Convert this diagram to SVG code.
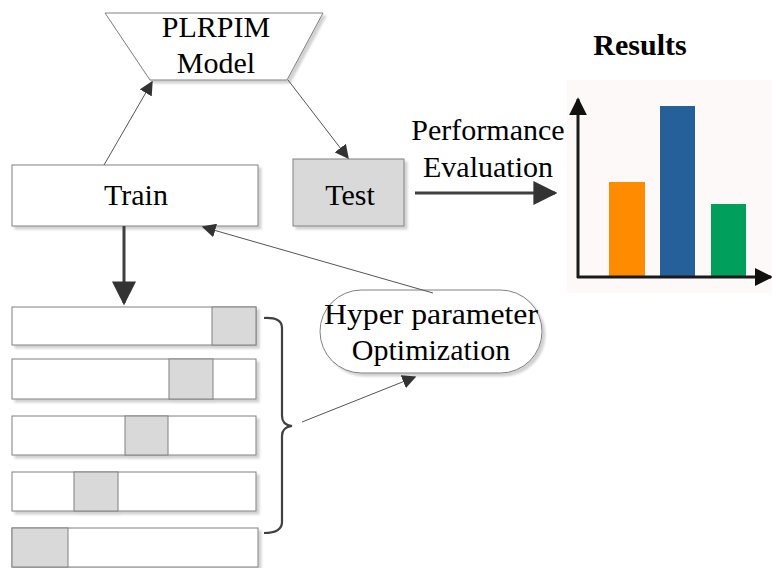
<svg xmlns="http://www.w3.org/2000/svg" width="772" height="568" viewBox="0 0 772 568">
  <defs>
    <style>
      .lbl { font-family: "Liberation Serif", "Times New Roman", serif; font-size: 30px; fill: #000; text-anchor: middle; }
      .title { font-family: "Liberation Serif", "Times New Roman", serif; font-size: 30px; font-weight: bold; fill: #000; text-anchor: middle; }
      .box { fill: #ffffff; stroke: #808080; stroke-width: 1; }
      .grey { fill: #d9d9d9; stroke: #808080; stroke-width: 1; }
      .thin { stroke: #555555; stroke-width: 1; fill: none; }
      .thick { stroke: #404040; stroke-width: 3; fill: none; }
      .axis { stroke: #1a1a1a; stroke-width: 3; fill: none; }
    </style>
    <filter id="shadow" x="-10%" y="-10%" width="130%" height="140%">
      <feDropShadow dx="3" dy="3" stdDeviation="0.8" flood-color="#000" flood-opacity="0.18"/>
    </filter>
    <marker id="tip" viewBox="0 0 10 10" refX="9" refY="5" markerWidth="14" markerHeight="14" markerUnits="userSpaceOnUse" orient="auto">
      <path d="M0,0 L10,5 L0,10 Z" fill="#333333"/>
    </marker>
    <marker id="tipBig" viewBox="0 0 10 10" refX="9" refY="5" markerWidth="8" markerHeight="8" markerUnits="strokeWidth" orient="auto">
      <path d="M0,0 L10,5 L0,10 Z" fill="#333333"/>
    </marker>
    <marker id="axisTip" viewBox="0 0 10 10" refX="9" refY="5" markerWidth="6" markerHeight="6" markerUnits="strokeWidth" orient="auto">
      <path d="M0,0 L10,5 L0,10 Z" fill="#111111"/>
    </marker>
  </defs>

  <rect width="772" height="568" fill="#ffffff"/>

  <!-- model block -->
  <g id="model">
    <polygon points="105,13 323,13 287,80 150,80" fill="#ffffff" stroke="#808080" stroke-width="1" filter="url(#shadow)"/>
    <text class="lbl" x="216" y="37">PLRPIM</text>
    <text class="lbl" x="216" y="73">Model</text>
  </g>

  <!-- training block -->
  <g id="train">
    <rect class="box" x="12" y="165" width="246" height="61" filter="url(#shadow)"/>
    <text class="lbl" x="136" y="205">Train</text>
  </g>

  <!-- test block -->
  <g id="test">
    <rect class="grey" x="293" y="159" width="111" height="67" filter="url(#shadow)"/>
    <text class="lbl" x="350" y="205">Test</text>
  </g>

  <!-- hyper parameter optimization -->
  <g id="hpo">
    <rect x="320" y="290" width="222" height="83" rx="41.5" ry="41.5" fill="#ffffff" stroke="#808080" stroke-width="1" filter="url(#shadow)"/>
    <text class="lbl" x="431" y="324" textLength="214" lengthAdjust="spacingAndGlyphs">Hyper parameter</text>
    <text class="lbl" x="431" y="360">Optimization</text>
  </g>

  <!-- cross-validation folds -->
  <g id="folds" filter="url(#shadow)">
    <g id="fold1">
      <rect class="box" x="12" y="307" width="244" height="38"/>
      <rect class="grey" x="212" y="307" width="44" height="38"/>
    </g>
    <g id="fold2">
      <rect class="box" x="12" y="359" width="244" height="40"/>
      <rect class="grey" x="169" y="359" width="44" height="40"/>
    </g>
    <g id="fold3">
      <rect class="box" x="12" y="416" width="244" height="39"/>
      <rect class="grey" x="125" y="416" width="43" height="39"/>
    </g>
    <g id="fold4">
      <rect class="box" x="12" y="472" width="244" height="39"/>
      <rect class="grey" x="74" y="472" width="44" height="39"/>
    </g>
    <g id="fold5">
      <rect class="box" x="12" y="528" width="246" height="39"/>
      <rect class="grey" x="12" y="528" width="56" height="39"/>
    </g>
  </g>

  <!-- brace grouping the folds -->
  <g id="brace">
    <path d="M264,318 Q282,317 282,328 L282,416 Q282,425 292,426 Q282,427 282,436 L282,522 Q282,533 264,533" fill="none" stroke="#404040" stroke-width="2.2"/>
  </g>

  <!-- results chart -->
  <g id="results">
    <text class="title" x="640" y="55">Results</text>
    <rect x="567" y="80" width="205" height="213" fill="#fdf9f8"/>
    <rect x="609" y="182" width="36" height="95" fill="#ff8c00"/>
    <rect x="660" y="106" width="35" height="171" fill="#26609b"/>
    <rect x="711" y="204" width="35" height="73" fill="#00a05c"/>
    <line class="axis" x1="578" y1="278" x2="578" y2="99" marker-end="url(#axisTip)"/>
    <line class="axis" x1="577" y1="277" x2="771" y2="277" marker-end="url(#axisTip)"/>
  </g>

  <!-- connectors -->
  <g id="connectors">
    <line class="thin" x1="104" y1="165" x2="152" y2="82" marker-end="url(#tip)"/>
    <line class="thin" x1="288" y1="80" x2="348" y2="158" marker-end="url(#tip)"/>
    <line class="thick" x1="124" y1="226" x2="124" y2="303" marker-end="url(#tipBig)"/>
    <line class="thin" x1="433" y1="293" x2="203" y2="227" marker-end="url(#tip)"/>
    <line class="thin" x1="302" y1="422" x2="415" y2="377" marker-end="url(#tip)"/>
    <line class="thick" x1="415" y1="193" x2="555" y2="193" marker-end="url(#tipBig)"/>
    <text class="lbl" x="488" y="140">Performance</text>
    <text class="lbl" x="488" y="177">Evaluation</text>
  </g>
</svg>
